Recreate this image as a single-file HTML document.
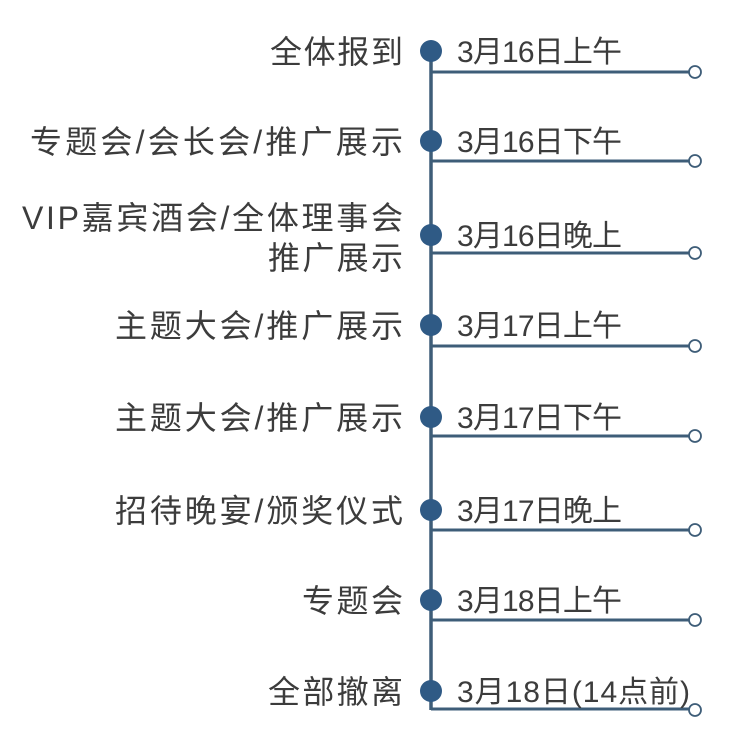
<!DOCTYPE html>
<html><head><meta charset="utf-8"><style>
body{margin:0;background:#fff;}
svg text{font-family:"Liberation Sans","Noto Sans CJK SC",sans-serif;font-size:32px;fill:#3c3c3c;}
svg text.d{font-size:30px;}
</style></head><body>
<svg width="749" height="747" viewBox="0 0 749 747">
<line x1="431" y1="50" x2="431" y2="710" stroke="#3e5d78" stroke-width="3.5"/>
<g stroke="#3e5d78" stroke-width="3">
<line x1="431" y1="72" x2="689" y2="72"/>
<line x1="431" y1="161" x2="689" y2="161"/>
<line x1="431" y1="253" x2="689" y2="253"/>
<line x1="431" y1="346" x2="689" y2="346"/>
<line x1="431" y1="436" x2="689" y2="436"/>
<line x1="431" y1="530" x2="689" y2="530"/>
<line x1="431" y1="620" x2="689" y2="620"/>
<line x1="431" y1="709" x2="689" y2="709"/>
</g>
<g fill="#fff" stroke="#3e5d78" stroke-width="1.8">
<circle cx="695" cy="72" r="6"/><circle cx="695" cy="161" r="6"/><circle cx="695" cy="253" r="6"/><circle cx="695" cy="346" r="6"/><circle cx="695" cy="436" r="6"/><circle cx="695" cy="530" r="6"/><circle cx="695" cy="620" r="6"/><circle cx="695" cy="710" r="6"/>
</g>
<g fill="#2f5a85">
<circle cx="431" cy="51" r="11"/><circle cx="431" cy="141" r="11"/><circle cx="431" cy="235" r="11"/><circle cx="431" cy="325" r="11"/><circle cx="431" cy="417" r="11"/><circle cx="431" cy="510" r="11"/><circle cx="431" cy="600" r="11"/><circle cx="431" cy="691" r="11"/>
</g>
<g>
<text class="d" x="457" y="62" textLength="165" lengthAdjust="spacing">3月16日上午</text>
<text class="d" x="457" y="152" textLength="165" lengthAdjust="spacing">3月16日下午</text>
<text class="d" x="457" y="246" textLength="165" lengthAdjust="spacing">3月16日晚上</text>
<text class="d" x="457" y="336" textLength="165" lengthAdjust="spacing">3月17日上午</text>
<text class="d" x="457" y="428" textLength="165" lengthAdjust="spacing">3月17日下午</text>
<text class="d" x="457" y="521" textLength="165" lengthAdjust="spacing">3月17日晚上</text>
<text class="d" x="457" y="611" textLength="165" lengthAdjust="spacing">3月18日上午</text>
<text class="d" x="457" y="702" textLength="233" lengthAdjust="spacing">3月18日(14点前)</text>
</g>
<g>
<text x="270" y="63" textLength="133" lengthAdjust="spacing">全体报到</text>
<text x="30" y="153" textLength="373" lengthAdjust="spacing">专题会/会长会/推广展示</text>
<text x="22" y="229" textLength="381" lengthAdjust="spacing">VIP嘉宾酒会/全体理事会</text>
<text x="268" y="269" textLength="135" lengthAdjust="spacing">推广展示</text>
<text x="115" y="337" textLength="288" lengthAdjust="spacing">主题大会/推广展示</text>
<text x="115" y="429" textLength="288" lengthAdjust="spacing">主题大会/推广展示</text>
<text x="115" y="522" textLength="288" lengthAdjust="spacing">招待晚宴/颁奖仪式</text>
<text x="302" y="612" textLength="101" lengthAdjust="spacing">专题会</text>
<text x="268" y="703" textLength="135" lengthAdjust="spacing">全部撤离</text>
</g>
</svg>
</body></html>
